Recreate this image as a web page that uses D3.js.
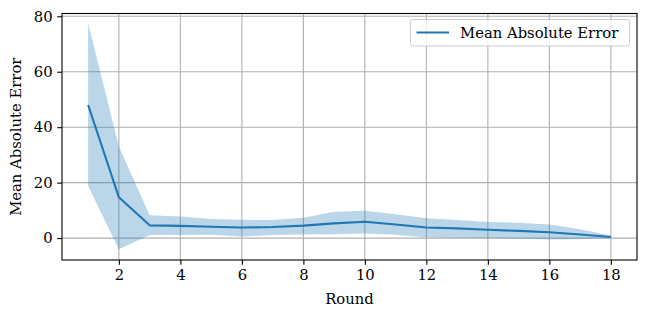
<!DOCTYPE html>
<html>
<head>
<meta charset="utf-8">
<script src="https://cdn.jsdelivr.net/npm/d3@7"></script>
<style>
  body { margin: 0; background: #fff; }
  svg text { font-family: "DejaVu Serif", serif; fill: #000; }
</style>
</head>
<body>
<svg id="chart" width="648" height="318"></svg>
<script>
// values
var rounds = [1, 2, 3, 4, 5, 6, 7, 8, 9, 10, 11, 12, 13, 14, 15, 16, 17, 18];
var meanErr = [48, 14.7, 4.6, 4.4, 4.1, 3.8, 4.0, 4.5, 5.3, 5.9, 4.9, 3.8, 3.5, 3.0, 2.6, 2.1, 1.3, 0.4];
var upperErr = [77.5, 33, 8.2, 7.8, 6.9, 6.6, 6.5, 7.3, 9.5, 9.9, 8.6, 7.2, 6.5, 5.8, 5.5, 4.9, 3.2, 0.9];
var lowerErr = [18.8, -4.0, 1.1, 1.1, 1.2, 0.6, 1.1, 1.3, 1.4, 1.7, 1.2, 0.2, 0.1, -0.1, -0.2, -0.5, -0.4, -0.1];
var xTicks = [2, 4, 6, 8, 10, 12, 14, 16, 18];
var yTicks = [0, 20, 40, 60, 80];
var seriesName = "Mean Absolute Error";

var svg = d3.select("#chart");
var m = {left: 62, top: 13.5, right: 637, bottom: 260};
var fs = "14.8px";

var x = d3.scaleLinear().domain([0.15, 18.85]).range([m.left, m.right]);
var y = d3.scaleLinear().domain([-7.9, 81.0]).range([m.bottom, m.top]);

var data = rounds.map(function(r, i) {
    return {r: r, mean: meanErr[i], lo: lowerErr[i], hi: upperErr[i]};
});

// grid
svg.append("g")
    .selectAll("line")
    .data(xTicks).enter().append("line")
    .attr("x1", function(d) { return x(d); })
    .attr("x2", function(d) { return x(d); })
    .attr("y1", m.top).attr("y2", m.bottom)
    .style("stroke", "#b0b0b0").style("stroke-width", 1.1);
svg.append("g")
    .selectAll("line")
    .data(yTicks).enter().append("line")
    .attr("y1", function(d) { return y(d); })
    .attr("y2", function(d) { return y(d); })
    .attr("x1", m.left).attr("x2", m.right)
    .style("stroke", "#b0b0b0").style("stroke-width", 1.1);

// band
var area = d3.area()
    .x(function(d) { return x(d.r); })
    .y0(function(d) { return y(d.lo); })
    .y1(function(d) { return y(d.hi); });
svg.append("path")
    .datum(data)
    .attr("d", area)
    .style("fill", "#1f77b4")
    .style("fill-opacity", 0.3)
    .style("stroke", "none");

// mean line
var line = d3.line()
    .x(function(d) { return x(d.r); })
    .y(function(d) { return y(d.mean); });
svg.append("path")
    .datum(data)
    .attr("d", line)
    .style("fill", "none")
    .style("stroke", "#1f77b4")
    .style("stroke-width", 2.1)
    .style("stroke-linejoin", "round");

// axes
var xAxis = d3.axisBottom(x).tickValues(xTicks).tickSize(4.8).tickPadding(4.5);
var yAxis = d3.axisLeft(y).tickValues(yTicks).tickSize(4.8).tickPadding(4.5);

var gx = svg.append("g").attr("transform", "translate(0," + m.bottom + ")").call(xAxis);
var gy = svg.append("g").attr("transform", "translate(" + m.left + ",0)").call(yAxis);
[gx, gy].forEach(function(g) {
    g.select(".domain").remove();
    g.selectAll(".tick line").style("stroke", "#000").style("stroke-width", 1.1);
    g.selectAll(".tick text")
        .style("font-family", "DejaVu Serif")
        .style("font-size", fs)
        .style("fill", "#000");
});

// frame
svg.append("rect")
    .attr("x", m.left).attr("y", m.top)
    .attr("width", m.right - m.left).attr("height", m.bottom - m.top)
    .style("fill", "none").style("stroke", "#000").style("stroke-width", 1.1);

// labels
svg.append("text")
    .attr("x", (m.left + m.right) / 2)
    .attr("y", 304)
    .style("text-anchor", "middle")
    .style("font-size", fs)
    .text("Round");
svg.append("text")
    .attr("transform", "translate(21," + ((m.top + m.bottom) / 2) + ") rotate(-90)")
    .style("text-anchor", "middle")
    .style("font-size", fs)
    .text(seriesName);

// legend
var lg = svg.append("g");
lg.append("rect")
    .attr("x", 410.5).attr("y", 19.5)
    .attr("width", 219).attr("height", 26.5)
    .attr("rx", 2.5)
    .style("fill", "#fff").style("fill-opacity", 0.8)
    .style("stroke", "#cccccc").style("stroke-width", 1);
lg.append("line")
    .attr("x1", 416.5).attr("x2", 449)
    .attr("y1", 32.5).attr("y2", 32.5)
    .style("stroke", "#1f77b4").style("stroke-width", 2.1);
lg.append("text")
    .attr("x", 460).attr("y", 32.5)
    .attr("dy", "0.35em")
    .style("font-size", fs)
    .text(seriesName);
</script>
</body>
</html>
